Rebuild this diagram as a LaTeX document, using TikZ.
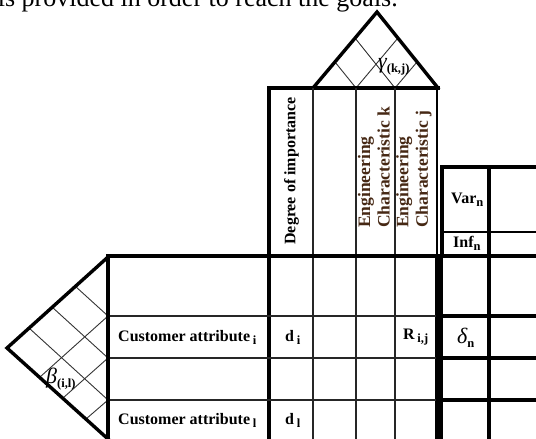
\documentclass[tikz,border=0pt]{standalone}
\usepackage{fontspec}
\setmainfont{Liberation Serif}
\newfontfamily\grk{Liberation Serif}
\newcommand\sbx[1]{\raisebox{-0.4ex}{\fontsize{12.5}{12.5}\selectfont\upshape\bfseries #1}}
\definecolor{hdrbrown}{RGB}{70,40,20}
\tikzset{
  heavy/.style={line width=3.4pt, line cap=rect},
  medium/.style={line width=2.2pt},
  thinline/.style={line width=1.1pt, black!85},
  hairline/.style={line width=0.9pt, black!80},
  lbl/.style={font=\fontsize{16}{17}\selectfont\bfseries, inner sep=0pt},
  hdr/.style={font=\fontsize{17.5}{19.5}\selectfont\bfseries, inner sep=0pt, rotate=90, align=left, anchor=west},
  greek/.style={font=\fontsize{22}{22}\selectfont\grk\itshape, inner sep=0pt}
}
\begin{document}
\begin{tikzpicture}[x=1pt,y=-1pt]
\useasboundingbox (0,0) rectangle (536,439);
\begin{scope}
\clip (0,0) rectangle (536,439);
% cut-off sentence at the top
\node[font=\fontsize{26}{26}\selectfont, anchor=base east, inner sep=0pt] (sent) at (398,6) {is provided in order to reach the goals.};
% roof
\draw[hairline] (356,88) -- (398,38);
\draw[hairline] (356,88) -- (335,62);
\draw[hairline] (395,88) -- (417,62);
\draw[hairline] (395,88) -- (355,38);
\draw[heavy, line join=miter] (313,88) -- (377,12) -- (438,88);
% header
\draw[heavy] (269,88) -- (438,88);
\draw[heavy] (269,88) -- (269,439);
\draw[thinline] (313,88) -- (313,439);
\draw[thinline] (356,88) -- (356,439);
\draw[thinline] (395,88) -- (395,439);
\draw[medium] (437,88) -- (437,255);
% right section
\draw[heavy] (442,167) -- (536,167);
\draw[heavy] (442,167) -- (442,255);
\draw[medium] (442,232) -- (536,232);
\draw[heavy] (489,167) -- (489,439);
% big horizontal
\draw[heavy] (108,256) -- (536,256);
% thick bar
\draw[line width=8pt] (439,256) -- (439,439);
% rows
\foreach \yy in {316,358,400} {
  \draw[thinline] (108,\yy) -- (436,\yy);
  \draw[heavy] (443,\yy) -- (536,\yy);
}
% left triangle
\draw[hairline] (108,316) -- (75,286);
\draw[hairline] (108,358) -- (52,307);
\draw[hairline] (108,400) -- (29,328);
\draw[hairline] (108,316) -- (40,377);
\draw[hairline] (108,358) -- (63,398);
\draw[hairline] (108,400) -- (86,419);
\draw[heavy, line join=miter] (108,257) -- (7,348) -- (108,439);
\draw[heavy] (108,257) -- (108,439);
\end{scope}
% texts
\node[lbl, rotate=90] (deg) at (291.5,171) {Degree of importance};
\node[hdr, text=hdrbrown] (eck) at (374,228) {Engineering\\Characteristic k};
\node[hdr, text=hdrbrown] (ecj) at (414,228) {Engineering\\Characteristic j};
\node[lbl, anchor=west] (var) at (451,200) {Var\sbx{n}};
\node[lbl, anchor=west] (inf) at (453,243) {Inf\sbx{n}};
\node[lbl, anchor=west] (cai) at (118,337) {Customer attribute\,\sbx{i}};
\node[lbl, anchor=west] (cal) at (118,420) {Customer attribute\,\sbx{l}};
\node[lbl, anchor=west] (di) at (285,337) {d\,\sbx{i}};
\node[lbl, anchor=west] (dl) at (285,420) {d\,\sbx{l}};
\node[lbl, anchor=west] (rij) at (403,337) {R\,\sbx{i,j}};
\node[greek, anchor=west] (dn) at (457,338) {δ\sbx{n}};
\node[greek, anchor=west] (gam) at (378,67) {γ\sbx{(k,j)}};
\node[greek, anchor=west] (bet) at (46,379) {β\sbx{(i,l)}};
\end{tikzpicture}
\end{document}
